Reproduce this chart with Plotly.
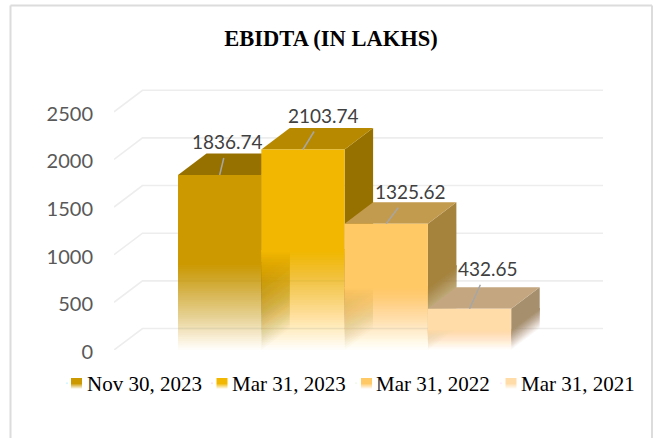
import plotly.graph_objects as go

# ---- data ----
periods = ["Nov 30, 2023", "Mar 31, 2023", "Mar 31, 2022", "Mar 31, 2021"]
ebidta = [1836.74, 2103.74, 1325.62, 432.65]
tick_values = [0, 500, 1000, 1500, 2000, 2500]
title_text = "<b>EBIDTA (IN LAKHS)</b>"

# ---- style ----
front_rgb = [(204, 153, 0), (242, 183, 0), (255, 201, 102), (255, 220, 168)]
top_rgb = [(151, 113, 0), (183, 137, 0), (195, 155, 79), (196, 167, 128)]
side_rgb = [(125, 94, 0), (150, 113, 0), (165, 131, 61), (166, 143, 108)]
label_offsets = [(8, -33), (21, -34), (24, -32), (18, -40)]
swatch_lefts = [71, 216.5, 361, 505.5]
legend_text_lefts = [87, 232, 376, 521]

W, H = 654, 438
L, R, T, B = 114, 51, 89, 88
PX_PER_UNIT = 0.0953
BAR_PX = 83.3
DEPTH_X = 28.5 / BAR_PX            # category units
DEPTH_Y = 21.5 / PX_PER_UNIT       # value units
X_MIN = -0.5 - (178 - L) / BAR_PX
X_MAX = -0.5 + (W - R - 178) / BAR_PX
Y_MAX = (H - T - B) / PX_PER_UNIT
FADE_LAYERS = 40


def css(rgb):
    return "rgb(%d,%d,%d)" % rgb


def poly(xs, ys, color, opacity=1.0):
    return go.Scatter(
        x=xs + xs[:1], y=ys + ys[:1], mode="lines", fill="toself",
        fillcolor=css(color), opacity=opacity, line=dict(width=0, color=css(color)),
        hoverinfo="skip", showlegend=False,
    )


fig = go.Figure()

# walls: gridlines on the back and slanted on the side wall
gx, gy = [], []
for v in tick_values:
    gx += [X_MIN, X_MIN + DEPTH_X, X_MAX, None]
    gy += [v, v + DEPTH_Y, v + DEPTH_Y, None]
fig.add_trace(go.Scatter(x=gx, y=gy, mode="lines", line=dict(color="#ededed", width=1.6),
                         hoverinfo="skip", showlegend=False, cliponaxis=False))

# bars, painted left to right
for i, val in enumerate(ebidta):
    x0, x1 = i - 0.5, i + 0.5
    half = val / 2
    # right side face, fading towards the floor
    for k in range(FADE_LAYERS):
        low = half * k / FADE_LAYERS
        a = 1 / (FADE_LAYERS - k)
        top_v = val if k == FADE_LAYERS - 1 else half
        fig.add_trace(poly([x1, x1 + DEPTH_X, x1 + DEPTH_X, x1],
                           [low, low + DEPTH_Y, top_v + DEPTH_Y, top_v], side_rgb[i], a))
    # top face
    fig.add_trace(poly([x0, x1, x1 + DEPTH_X, x0 + DEPTH_X],
                       [val, val, val + DEPTH_Y, val + DEPTH_Y], top_rgb[i]))
    # front face, fading towards the floor
    for k in range(FADE_LAYERS):
        low = half * k / FADE_LAYERS
        a = 1 / (FADE_LAYERS - k)
        top_v = val if k == FADE_LAYERS - 1 else half
        fig.add_trace(poly([x0, x1, x1, x0], [low, low, top_v, top_v], front_rgb[i], a))

# legend entries (text only, gradient swatches are drawn as shapes); one legend each
legends = {}
for i, name in enumerate(periods):
    key = "legend" if i == 0 else "legend%d" % (i + 1)
    fig.add_trace(go.Scatter(x=[None], y=[None], mode="markers", name=name, legend=key,
                             marker=dict(size=1, opacity=0), hoverinfo="skip"))
    legends[key] = dict(x=(legend_text_lefts[i] - 40 - L) / (W - L - R), xanchor="left",
                        y=(H - B - 363) / (H - T - B), yanchor="top",
                        font=dict(family="Liberation Serif", size=21, color="black"),
                        bgcolor="rgba(0,0,0,0)")

# legend swatches
shapes = []
for i, sx in enumerate(swatch_lefts):
    for row in range(11):
        f = 1.0 if row < 6 else 1 - (row - 5) / 5.5
        c = tuple(round(255 + (ch - 255) * f) for ch in front_rgb[i])
        shapes.append(dict(type="rect", xref="paper", yref="paper", layer="above",
                           x0=(sx - L) / (W - L - R), x1=(sx + 11 - L) / (W - L - R),
                           y0=(H - B - (378 + row + 1)) / (H - T - B),
                           y1=(H - B - (378 + row)) / (H - T - B),
                           fillcolor=css(c), line=dict(width=0)))
# chart frame (left, top, right edges; the bottom runs off the picture)
for (a, b, c, d) in [(10.5, 5.5, 10.5, 438), (10.5, 5.5, 652, 5.5), (652, 5.5, 652, 438)]:
    shapes.append(dict(type="line", xref="paper", yref="paper", layer="below",
                       x0=(a - L) / (W - L - R), x1=(c - L) / (W - L - R),
                       y0=(H - B - b) / (H - T - B), y1=(H - B - d) / (H - T - B),
                       line=dict(color="#dcdcdc", width=2)))

annotations = [
    dict(x=i, y=v, text="%.2f" % v, ax=label_offsets[i][0], ay=label_offsets[i][1],
         showarrow=True, arrowhead=0, arrowwidth=1.5, arrowcolor="#a6a6a6", standoff=0,
         borderpad=4, font=dict(family="Lato", size=19, color="#404040"))
    for i, v in enumerate(ebidta)
]

fig.update_layout(
    width=W, height=H, autosize=False, showlegend=True,
    margin=dict(l=L, r=R, t=T, b=B, pad=0),
    paper_bgcolor="white", plot_bgcolor="white",
    title=dict(text=title_text, x=331 / W, xanchor="center", y=1 - 38 / H, yanchor="middle",
               font=dict(family="Liberation Serif", size=22.5, color="black")),
    xaxis=dict(range=[X_MIN, X_MAX], visible=False, fixedrange=True),
    yaxis=dict(range=[0, Y_MAX], tickmode="array", tickvals=tick_values,
               ticktext=[str(v) for v in tick_values], showgrid=False, zeroline=False,
               showline=False, ticks="", ticklabelstandoff=20, ticklabelshift=2, fixedrange=True,
               tickfont=dict(family="Lato", size=20, color="#595959")),
    shapes=shapes, annotations=annotations,
    **legends,
)

fig.write_html("out.html", config=dict(displayModeBar=False),
               post_script="document.body.style.margin='0';")
